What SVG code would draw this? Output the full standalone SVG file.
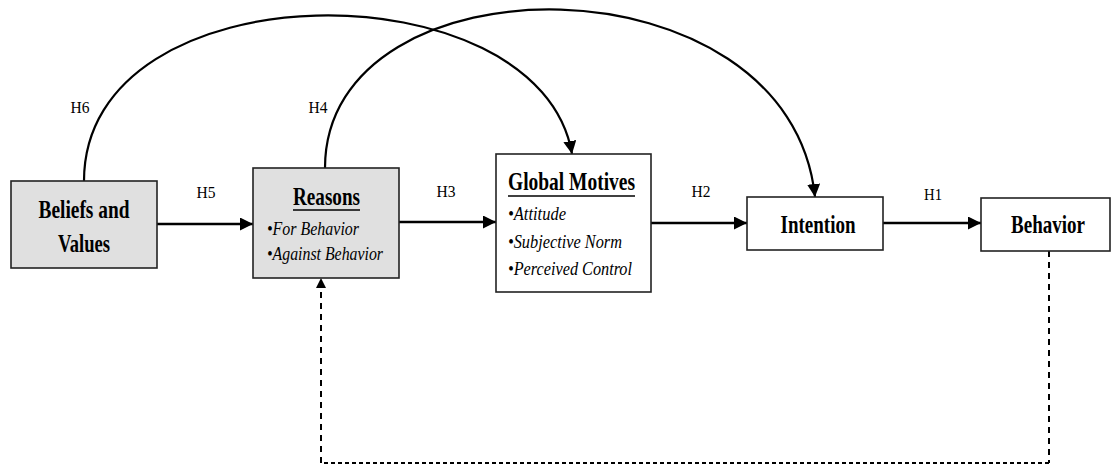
<svg xmlns="http://www.w3.org/2000/svg" width="1112" height="468" viewBox="0 0 1112 468">
<style>
.box{stroke:#222;stroke-width:1.6;}
.gray{fill:#e0e0e0;}
.white{fill:#fff;}
.t{font-family:"Liberation Serif","Times New Roman",serif;fill:#000;}
.b{font-weight:bold;font-size:25px;}
.i{font-style:italic;font-size:19px;}
.h{font-size:17px;}
.ln{fill:none;stroke:#000;stroke-width:2.6;}
.arc{fill:none;stroke:#000;stroke-width:2.2;}
.dash{fill:none;stroke:#000;stroke-width:2;stroke-dasharray:6,5;}
.dot{fill:none;stroke:#000;stroke-width:2;stroke-dasharray:4,3;}
</style>
<defs>
<marker id="ah" viewBox="0 0 10 10" refX="10" refY="5" markerWidth="10" markerHeight="10" markerUnits="userSpaceOnUse" orient="auto">
<path d="M0,0 L10,5 L0,10 z" fill="#000"/>
</marker>
<marker id="ah2" viewBox="0 0 10 10" refX="10" refY="5" markerWidth="13" markerHeight="13" markerUnits="userSpaceOnUse" orient="auto">
<path d="M0,0 L10,5 L0,10 z" fill="#000"/>
</marker>
</defs>
<rect width="1112" height="468" fill="#fff"/>
<g id="connectors">
<path class="ln" d="M157,224 L253,224" marker-end="url(#ah2)"/>
<path class="ln" d="M399,222 L496,222" marker-end="url(#ah2)"/>
<path class="ln" d="M651,223 L747,223" marker-end="url(#ah2)"/>
<path class="ln" d="M883,223 L981,223" marker-end="url(#ah2)"/>
<path class="arc" d="M84,181 C84,-35 540,-35 572,154" marker-end="url(#ah2)"/>
<path class="arc" d="M325,168 C325,-48 790,-48 815,197" marker-end="url(#ah2)"/>
<path class="dash" d="M1049,251 L1049,463"/>
<path class="dot" d="M1049,463 L321,463"/>
<path class="dash" d="M321,463 L321,278" marker-end="url(#ah)"/>
<text class="t h" x="206" y="198" text-anchor="middle" textLength="19" lengthAdjust="spacingAndGlyphs">H5</text>
<text class="t h" x="446" y="197" text-anchor="middle" textLength="19" lengthAdjust="spacingAndGlyphs">H3</text>
<text class="t h" x="701" y="197" text-anchor="middle" textLength="19" lengthAdjust="spacingAndGlyphs">H2</text>
<text class="t h" x="933" y="200" text-anchor="middle" textLength="18" lengthAdjust="spacingAndGlyphs">H1</text>
<text class="t h" x="80" y="113" text-anchor="middle" textLength="19" lengthAdjust="spacingAndGlyphs">H6</text>
<text class="t h" x="318" y="113" text-anchor="middle" textLength="19" lengthAdjust="spacingAndGlyphs">H4</text>
</g>
<g id="beliefs">
<rect class="box gray" x="11" y="181" width="146" height="87"/>
<text class="t b" x="84" y="218" text-anchor="middle" textLength="91" lengthAdjust="spacingAndGlyphs">Beliefs and</text>
<text class="t b" x="84" y="252" text-anchor="middle" textLength="52" lengthAdjust="spacingAndGlyphs">Values</text>
</g>
<g id="reasons">
<rect class="box gray" x="253" y="168" width="146" height="110"/>
<text class="t b" x="293" y="205" textLength="67" lengthAdjust="spacingAndGlyphs">Reasons</text>
<line x1="293" y1="210" x2="360" y2="210" stroke="#000" stroke-width="1.5"/>
<text class="t i" x="267" y="235" textLength="92" lengthAdjust="spacingAndGlyphs">•For Behavior</text>
<text class="t i" x="267" y="260" textLength="116" lengthAdjust="spacingAndGlyphs">•Against Behavior</text>
</g>
<g id="global-motives">
<rect class="box white" x="496" y="154" width="155" height="138"/>
<text class="t b" x="508" y="190" textLength="127" lengthAdjust="spacingAndGlyphs">Global Motives</text>
<line x1="508" y1="196" x2="635" y2="196" stroke="#000" stroke-width="1.5"/>
<text class="t i" x="508" y="220" textLength="58" lengthAdjust="spacingAndGlyphs">•Attitude</text>
<text class="t i" x="508" y="248" textLength="114" lengthAdjust="spacingAndGlyphs">•Subjective Norm</text>
<text class="t i" x="508" y="275" textLength="124" lengthAdjust="spacingAndGlyphs">•Perceived Control</text>
</g>
<g id="intention">
<rect class="box white" x="747" y="197" width="136" height="53"/>
<text class="t b" x="818" y="233" text-anchor="middle" textLength="75" lengthAdjust="spacingAndGlyphs">Intention</text>
</g>
<g id="behavior">
<rect class="box white" x="981" y="198" width="129" height="53"/>
<text class="t b" x="1048" y="233" text-anchor="middle" textLength="74" lengthAdjust="spacingAndGlyphs">Behavior</text>
</g>
</svg>
